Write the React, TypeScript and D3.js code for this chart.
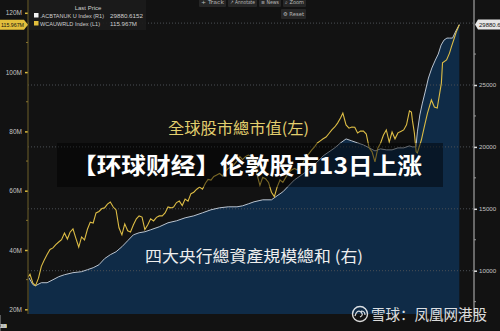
import { useEffect, useRef } from "react"
import * as d3 from "d3"

// world equity market cap (left axis, M)
const capDates = [
  "2008-12-15", "2009-01", "2009-02", "2009-03", "2009-04", "2009-05", "2009-06", "2009-07", "2009-08", "2009-09", "2009-10", "2009-11", "2009-12",
  "2010-01", "2010-02", "2010-03", "2010-04", "2010-05", "2010-06", "2010-07", "2010-08", "2010-09", "2010-10", "2010-11", "2010-12",
  "2011-01", "2011-02", "2011-03", "2011-04", "2011-05", "2011-06", "2011-07", "2011-08", "2011-09", "2011-10", "2011-11", "2011-12",
  "2012-01", "2012-02", "2012-03", "2012-04", "2012-05", "2012-06", "2012-07", "2012-08", "2012-09", "2012-10", "2012-11", "2012-12",
  "2013-01", "2013-02", "2013-03", "2013-04", "2013-05", "2013-06", "2013-07", "2013-08", "2013-09", "2013-10", "2013-11", "2013-12",
  "2014-01", "2014-02", "2014-03", "2014-04", "2014-05", "2014-06", "2014-07", "2014-08", "2014-09", "2014-10", "2014-11", "2014-12",
  "2015-01", "2015-02", "2015-03", "2015-04", "2015-05", "2015-06", "2015-07", "2015-08", "2015-09", "2015-10", "2015-11", "2015-12",
  "2016-01", "2016-02", "2016-03", "2016-04", "2016-05", "2016-06", "2016-07", "2016-08", "2016-09", "2016-10", "2016-11", "2016-12",
  "2017-01", "2017-02", "2017-03", "2017-04", "2017-05", "2017-06", "2017-07", "2017-08", "2017-09", "2017-10", "2017-11", "2017-12",
  "2018-01", "2018-01-26", "2018-03", "2018-04", "2018-05", "2018-06", "2018-07", "2018-08", "2018-09", "2018-10", "2018-11", "2018-12",
  "2019-01", "2019-02", "2019-03", "2019-04", "2019-05", "2019-06", "2019-07", "2019-08", "2019-09", "2019-10", "2019-11", "2019-12",
  "2020-01", "2020-01-22", "2020-02-01", "2020-02-22", "2020-03-12", "2020-03-24", "2020-05-06", "2020-06-06", "2020-07-10", "2020-08-20",
  "2020-09-21", "2020-10-21", "2020-12-04", "2020-12-16", "2021-01-28", "2021-02-28", "2021-03-20", "2021-04-20", "2021-05-10", "2021-06-12",
]
const capValues = [
  31.0, 31.8, 28.8, 28.0, 30.5, 34.5, 36.6, 38.5, 40.2, 40.7, 41.8, 42.7, 43.5,
  45.7, 43.7, 46.0, 47.1, 44.0, 41.0, 44.4, 43.4, 47.0, 49.4, 49.1, 52.5,
  53.0, 54.0, 54.2, 55.5, 56.2, 54.5, 53.5, 47.5, 45.1, 48.8, 46.5, 46.1,
  48.5, 50.5, 51.5, 51.1, 46.9, 48.5, 50.5, 49.8, 51.0, 51.5, 51.5, 52.5,
  54.5, 54.2, 54.5, 56.0, 56.5, 55.0, 57.2, 56.5, 59.0, 59.5, 60.5, 61.2,
  60.5, 62.5, 63.8, 63.6, 64.8, 65.3, 65.8, 65.0, 66.5, 67.5, 68.0, 68.8,
  70.0, 71.5, 70.5, 71.5, 72.0, 71.5, 70.0, 65.5, 61.8, 64.5, 64.0, 62.8,
  59.5, 58.0, 61.2, 63.6, 62.8, 64.5, 66.0, 67.0, 67.5, 67.0, 68.5, 69.5,
  71.4, 72.5, 73.7, 74.8, 76.1, 76.8, 77.5, 78.1, 79.3, 80.5, 81.5, 82.8,
  84.5, 86.2, 82.2, 81.1, 81.5, 81.4, 79.5, 80.1, 80.1, 79.1, 74.4, 73.1,
  69.7, 74.4, 76.0, 78.8, 80.5, 76.4, 79.8, 77.5, 79.5, 80.0, 80.5, 82.2,
  86.9, 86.5, 83.8, 79.5, 73.1, 72.7, 77.1, 81.5, 86.2, 90.6,
  88.2, 87.9, 96.3, 103.1, 104.1, 106.4, 108.5, 111.5, 113.5, 115.967,
]

// sum of four central bank balance sheets (right axis)
const cbDates = [
  "2008-12-20", "2009-02", "2009-03", "2009-05", "2009-07", "2009-09", "2009-11", "2010-01", "2010-04", "2010-07", "2010-09", "2010-11",
  "2011-01", "2011-03", "2011-05", "2011-07", "2011-09", "2011-11", "2012-01", "2012-03", "2012-05", "2012-07", "2012-10",
  "2013-01", "2013-04", "2013-07", "2013-10", "2014-01", "2014-04", "2014-07", "2014-10", "2015-01", "2015-03", "2015-05", "2015-07", "2015-10",
  "2016-01", "2016-03", "2016-05", "2016-07", "2016-09", "2016-11", "2017-01", "2017-03", "2017-05", "2017-07", "2017-09", "2017-11",
  "2018-01", "2018-03", "2018-05", "2018-07", "2018-09", "2018-11", "2019-01", "2019-03", "2019-05", "2019-07", "2019-09", "2019-11",
  "2020-01", "2020-02", "2020-03-10", "2020-03-25", "2020-04-20", "2020-05-15", "2020-06-15", "2020-07-20", "2020-08-25", "2020-10-01",
  "2020-11-01", "2020-12-01", "2021-01-01", "2021-02-01", "2021-03-01", "2021-04-01", "2021-05-01", "2021-06-12",
]
const cbValues = [
  9435, 8870, 8790, 9030, 9030, 9270, 9515, 9675, 9840, 9920, 10080, 10240,
  10480, 10970, 11290, 11530, 11935, 12420, 12900, 13065, 13145, 13305, 13550,
  13870, 14030, 14270, 14430, 14675, 14920, 15080, 15160, 15160, 15240, 15400, 15565, 15725,
  15725, 16050, 16370, 16855, 17340, 17660, 17985, 18390, 18790, 19275, 19600, 19920,
  20320, 20645, 20485, 20320, 20160, 19920, 19675, 19840, 19760, 19760, 19920, 19920,
  20080, 20000, 20000, 21210, 22580, 23470, 24435, 25565, 26370, 27015,
  27500, 28225, 28630, 28790, 28790, 28790, 29275, 29880.6152,
]

const years = ["2009", "2010", "2011", "2012", "2013", "2014", "2015", "2016", "2017", "2018", "2019", "2020", "2021"]
const leftTicks = [20, 40, 60, 80, 100, 120]
const leftMinor = [30, 50, 70, 90, 110]
const rightTicks = [10000, 15000, 20000, 25000]
const rightMinor = [7500, 12500, 17500, 22500, 27500]
const gridValues = [10000, 15000, 20000, 25000, 30000]
const gridYears = ["2010", "2012", "2014", "2016", "2018", "2020"]

const parse = (s: string) => {
  const [y, m, d] = s.split("-").map(Number)
  return new Date(y, m - 1, d || 1)
}

const SANS = "Liberation Sans, Arial, sans-serif"

export default function App() {
  const svgRef = useRef<SVGSVGElement>(null)

  useEffect(() => {
    if (!svgRef.current) return
    document.body.style.margin = "0"
    const svg = d3.select(svgRef.current)
    svg.selectAll("*").remove()

    const left = 28
    const right = 474
    const bottom = 314

    const x = d3.scaleTime().domain([new Date(2009, 0, 1), new Date(2022, 0, 1)]).range([30, 478.5])
    const yL = d3.scaleLinear().domain([20, 120]).range([309.3, 12.8])
    const yR = d3.scaleLinear().domain([10000, 25000]).range([270.7, 85])

    const cap = capDates.map((d, i) => ({ date: parse(d), value: capValues[i] }))
    const cb = cbDates.map((d, i) => ({ date: parse(d), value: cbValues[i] }))

    svg.append("rect").attr("width", 500).attr("height", 331).attr("fill", "#121212")

    svg.append("defs").append("clipPath").attr("id", "plot-clip")
      .append("rect").attr("x", left).attr("y", 0).attr("width", right - left).attr("height", bottom)

    const plot = svg.append("g").attr("clip-path", "url(#plot-clip)")

    // central bank area
    const area = d3.area<{ date: Date; value: number }>()
      .x((d) => x(d.date))
      .y0(bottom)
      .y1((d) => yR(d.value))
    plot.append("path").datum(cb).attr("d", area).attr("fill", "#0f2b47")

    // grid
    plot.selectAll(".hgrid").data(gridValues).enter().append("line")
      .attr("x1", left).attr("x2", right)
      .attr("y1", (d) => yR(d)).attr("y2", (d) => yR(d))
      .attr("stroke", "#4a4f55").attr("stroke-dasharray", "1,2")
    plot.selectAll(".vgrid").data(gridYears).enter().append("line")
      .attr("x1", (d) => x(parse(d))).attr("x2", (d) => x(parse(d)))
      .attr("y1", 0).attr("y2", bottom)
      .attr("stroke", "#4a4f55").attr("stroke-dasharray", "1,2")

    const lineCb = d3.line<{ date: Date; value: number }>().x((d) => x(d.date)).y((d) => yR(d.value))
    plot.append("path").datum(cb).attr("d", lineCb).attr("fill", "none")
      .attr("stroke", "#b9c3cf").attr("stroke-width", 1)

    const lineCap = d3.line<{ date: Date; value: number }>().x((d) => x(d.date)).y((d) => yL(d.value))
    plot.append("path").datum(cap).attr("d", lineCap).attr("fill", "none")
      .attr("stroke", "#dcbc45").attr("stroke-width", 1.1)

    // left axis (yellow)
    const axL = svg.append("g").attr("transform", `translate(${left},0)`)
    axL.call(d3.axisLeft(yL).tickValues(leftTicks).tickFormat((d) => `${d}M`).tickSize(3).tickPadding(3))
    axL.select(".domain").remove()
    axL.selectAll("line").attr("stroke", "#d9b93c").attr("stroke-width", 1.5)
    axL.selectAll("text").attr("fill", "#c4c4c4").attr("font-size", 6.5).attr("font-family", SANS)
    axL.append("line").attr("y1", 0).attr("y2", bottom).attr("stroke", "#6d5f28")
    axL.selectAll(".minor").data(leftMinor).enter().append("line")
      .attr("x1", -2).attr("x2", 0).attr("y1", (d) => yL(d)).attr("y2", (d) => yL(d)).attr("stroke", "#8a7530")

    // right axis (white)
    const axR = svg.append("g").attr("transform", `translate(${right},0)`)
    axR.call(d3.axisRight(yR).tickValues(rightTicks).tickFormat((d) => `${d}`).tickSize(3).tickPadding(2))
    axR.select(".domain").remove()
    axR.selectAll("line").attr("stroke", "#e0e0e0").attr("stroke-width", 1.5)
    axR.selectAll("text").attr("fill", "#c4c4c4").attr("font-size", 6.2).attr("font-family", SANS)
    axR.append("line").attr("y1", 0).attr("y2", bottom + 2).attr("stroke", "#bdbdbd")
    axR.selectAll(".minor").data(rightMinor).enter().append("line")
      .attr("x1", 0).attr("x2", 2).attr("y1", (d) => yR(d)).attr("y2", (d) => yR(d)).attr("stroke", "#9a9a9a")

    // x axis: year bands
    const yearG = svg.append("g")
    years.forEach((yr) => {
      const x0 = x(parse(yr))
      const x1 = x(new Date(+yr + 1, 0, 1))
      yearG.append("line").attr("x1", x0).attr("x2", x0).attr("y1", bottom + 1).attr("y2", 331).attr("stroke", "#5a5a5a")
      yearG.append("text").attr("x", (x0 + x1) / 2).attr("y", 327.5).attr("text-anchor", "middle")
        .attr("fill", "#c4c4c4").attr("font-size", 6).attr("font-family", SANS).text(yr)
    })

    // last value tags
    const lastCap = cap[cap.length - 1]
    const tagL = yL(lastCap.value)
    svg.append("path").attr("d", `M0,${tagL - 5}H24L28,${tagL}L24,${tagL + 5}H0Z`).attr("fill", "#e3bf3c")
    svg.append("text").attr("x", 1).attr("y", tagL + 2.2).attr("font-size", 6).attr("fill", "#111")
      .attr("font-family", SANS).attr("textLength", 23).attr("lengthAdjust", "spacingAndGlyphs").text("115.967M")
    const lastCb = cb[cb.length - 1]
    const tagR = yR(lastCb.value)
    svg.append("path").attr("d", `M475,${tagR}L478,${tagR - 5}H500V${tagR + 5}H478Z`).attr("fill", "#e6e6e6")
    svg.append("text").attr("x", 479).attr("y", tagR + 2.2).attr("font-size", 6).attr("fill", "#111")
      .attr("font-family", SANS).text("29880.6152")

    // legend box
    const lg = svg.append("g").attr("font-family", SANS).attr("font-size", 6).attr("fill", "#cfcfcf")
    lg.append("rect").attr("x", 29).attr("y", 0).attr("width", 117).attr("height", 30).attr("fill", "#1b1b1b").attr("opacity", 0.92)
    lg.append("text").attr("x", 88).attr("y", 10).attr("text-anchor", "middle").text("Last Price")
    lg.append("rect").attr("x", 34).attr("y", 13).attr("width", 4.5).attr("height", 4.5).attr("fill", "#f2f2f2")
    lg.append("text").attr("x", 40).attr("y", 17.6).attr("textLength", 64).attr("lengthAdjust", "spacingAndGlyphs")
      .text(".ACBTANUK U Index (R1)")
    lg.append("text").attr("x", 110).attr("y", 17.6).attr("textLength", 33).attr("lengthAdjust", "spacingAndGlyphs").text("29880.6152")
    lg.append("rect").attr("x", 34).attr("y", 21).attr("width", 4.5).attr("height", 4.5).attr("fill", "#e3bf3c")
    lg.append("text").attr("x", 40).attr("y", 25.6).attr("textLength", 60).attr("lengthAdjust", "spacingAndGlyphs")
      .text("WCAUWRLD Index (L1)")
    lg.append("text").attr("x", 110).attr("y", 25.6).attr("textLength", 27).attr("lengthAdjust", "spacingAndGlyphs").text("115.967M")

    // toolbar buttons
    const buttons = [
      { label: "+ Track", x: 199, y: -3, w: 27 },
      { label: "↗ Annotate", x: 228, y: -3, w: 29 },
      { label: "≡ News", x: 259, y: -3, w: 22 },
      { label: "⌕ Zoom", x: 283, y: -3, w: 23 },
      { label: "⚙ Reset", x: 281, y: 9, w: 25 },
    ]
    const bt = svg.append("g").attr("font-family", "DejaVu Sans, sans-serif").attr("font-size", 5.4)
    buttons.forEach((b) => {
      bt.append("rect").attr("x", b.x).attr("y", b.y).attr("width", b.w).attr("height", 10).attr("rx", 1).attr("fill", "#262626")
      bt.append("text").attr("x", b.x + 2).attr("y", b.y + 7.3).attr("fill", "#b8b8b8")
        .attr("textLength", b.w - 4).attr("lengthAdjust", "spacingAndGlyphs").text(b.label)
    })

    // annotations
    svg.append("text").attr("x", 168).attr("y", 134).attr("font-size", 15.5).attr("fill", "#e2cf6e")
      .attr("font-family", "Noto Sans CJK TC, sans-serif").attr("textLength", 141).attr("lengthAdjust", "spacingAndGlyphs")
      .text("全球股市總市值(左)")
    svg.append("text").attr("x", 145).attr("y", 262).attr("font-size", 15.5).attr("fill", "#eeeeee")
      .attr("font-family", "Noto Sans CJK TC, sans-serif").attr("textLength", 218).attr("lengthAdjust", "spacingAndGlyphs")
      .text("四大央行總資產規模總和 (右)")

    // headline banner
    svg.append("rect").attr("x", 57).attr("y", 143).attr("width", 386).attr("height", 44).attr("fill", "#000").attr("opacity", 0.45)
    svg.append("text").attr("x", 72).attr("y", 174).attr("font-size", 22.5).attr("font-weight", "bold").attr("fill", "#ffffff")
      .attr("font-family", "Noto Sans CJK SC, sans-serif").attr("textLength", 350).attr("lengthAdjust", "spacingAndGlyphs")
      .text("【环球财经】伦敦股市13日上涨")

    // watermark
    const wm = svg.append("g").attr("opacity", 0.85)
    wm.append("circle").attr("cx", 360).attr("cy", 314).attr("r", 7.5).attr("fill", "none").attr("stroke", "#fff").attr("stroke-width", 1.4)
    wm.append("path").attr("d", "M355,316 q2,-7 6,-4 q3,3 -1,5 M361,311 q4,0 4,4").attr("fill", "none").attr("stroke", "#fff").attr("stroke-width", 1.2)
    wm.append("text").attr("x", 371).attr("y", 320).attr("font-size", 14.5).attr("fill", "#fff")
      .attr("font-family", "Noto Sans CJK SC, sans-serif").text("雪球：凤凰网港股")
  }, [])

  return <svg ref={svgRef} width={500} height={331} style={{ position: "absolute", left: 0, top: 0, display: "block" }} />
}
